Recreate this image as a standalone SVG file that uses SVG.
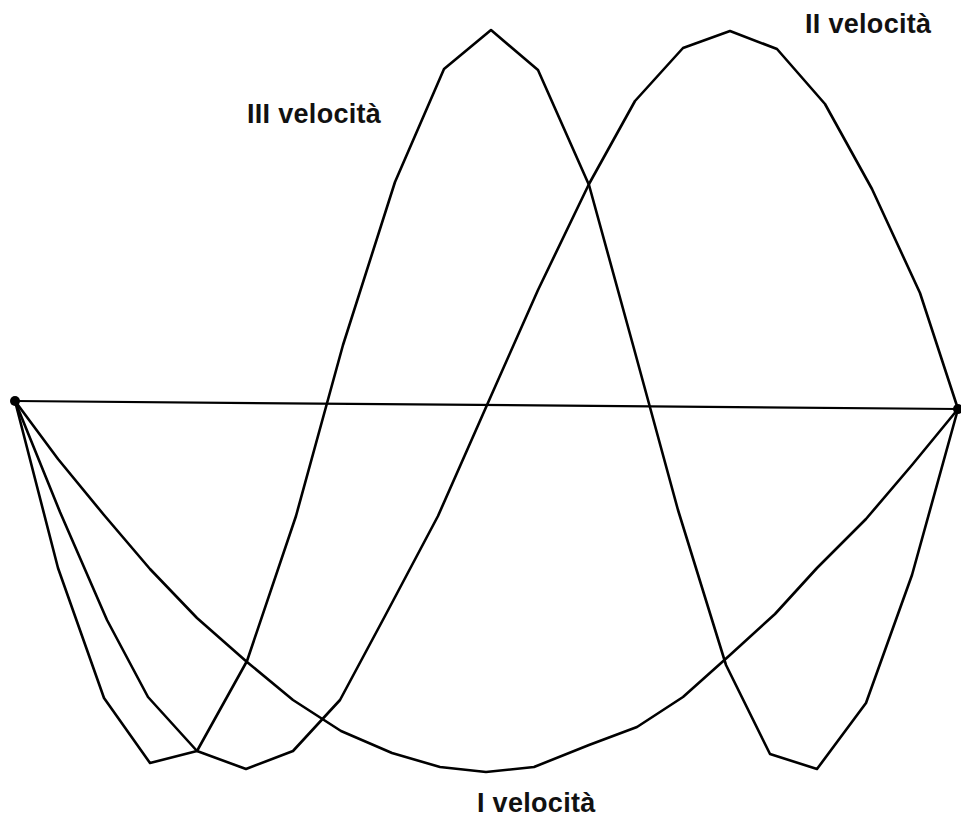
<svg xmlns="http://www.w3.org/2000/svg" width="961" height="817" viewBox="0 0 961 817">
<style>
.c{fill:none;stroke:#000;stroke-width:2.6;stroke-linejoin:round;stroke-linecap:round}
.b{fill:none;stroke:#000;stroke-width:2.2}
.d{fill:#000}
.t{font-family:"Liberation Sans",Arial,sans-serif;font-weight:bold;font-size:27px;fill:#111;letter-spacing:0.3px}
</style>
<rect width="961" height="817" fill="#fff"/>
<g id="baseline">
<line class="b" x1="15" y1="401" x2="958" y2="409"/>
</g>
<g id="mode-1">
<polyline class="c" points="15,401 58,459 104,515 150,569 197,618 247,662 293,700 341,731 392,753 440,767 486,772 534,767 589,745 637,727 683,697 730,655 775,614 817,568 866,519 912,465 958,409"/>
</g>
<g id="mode-2">
<polyline class="c" points="15,401 60,512 107,620 148,697 197,751 246,769 293,751 340,700 385,616 438,516 487,405 538,290 589,184 635,101 683,48 730,31 777,49 825,104 872,189 920,293 958,409"/>
</g>
<g id="mode-3">
<polyline class="c" points="15,401 58,568 104,698 150,763 197,751 247,661 296,516 343,345 395,182 444,69 491,30 538,70 589,185 633,345 678,510 726,665 770,754 817,769 866,703 912,575 958,409"/>
</g>
<g id="ends">
<circle class="d" cx="15" cy="401" r="5"/>
<circle class="d" cx="958" cy="409" r="5"/>
</g>
<g id="labels">
<text class="t" x="247" y="123">III velocità</text>
<text class="t" x="805" y="33">II velocità</text>
<text class="t" x="477" y="812">I velocità</text>
</g>
</svg>
